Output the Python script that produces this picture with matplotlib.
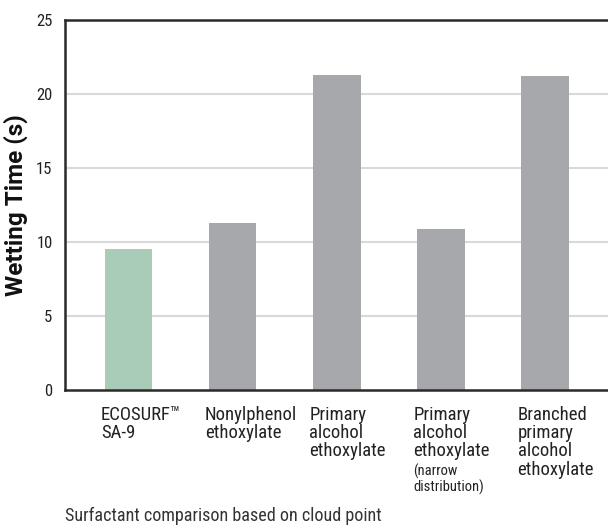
import matplotlib
matplotlib.use("Agg")
import matplotlib.pyplot as plt

FONT = ['Roboto Condensed', 'DejaVu Sans']
plt.rcParams['font.family'] = FONT

categories = ["ECOSURF™\nSA-9", "Nonylphenol\nethoxylate", "Primary\nalcohol\nethoxylate",
              "Primary\nalcohol\nethoxylate", "Branched\nprimary\nalcohol\nethoxylate"]
notes = ["", "", "", "(narrow\ndistribution)", ""]
values = [9.5, 11.3, 21.3, 10.9, 21.2]
colors = ["#a9ccb9", "#a7a8ab", "#a7a8ab", "#a7a8ab", "#a7a8ab"]
yticks = [0, 5, 10, 15, 20, 25]

fig = plt.figure(figsize=(6.08, 5.29), dpi=100)
ax = fig.add_axes([65/608, 1-390/529, 1-65/608+0.002, 370/529])
x = list(range(len(values)))
ax.bar(x, values, width=0.455, color=colors, zorder=2)
ax.set_xlim(-0.61, 4.615)
ax.set_ylim(0, 25)
ax.set_yticks(yticks)
ax.set_yticklabels([str(t) for t in yticks], fontsize=12, color="#222222")
ax.tick_params(axis='y', length=0, pad=9)
ax.set_xticks([])
for t in yticks[1:-1]:
    ax.axhline(t, color="#d9d9d9", lw=1.5, zorder=1)
for s in ['left', 'bottom', 'top']:
    ax.spines[s].set_color("#2a2a2a")
    ax.spines[s].set_linewidth(1.8)
ax.spines['right'].set_visible(False)
ax.set_ylabel("Wetting Time (s)", fontsize=17.5, fontweight='bold', color="#111111", labelpad=6,
              family=['Roboto', 'DejaVu Sans'])

for i, (lab, note) in enumerate(zip(categories, notes)):
    xt = i - 0.265
    ax.text(xt, -1.05, lab, ha='left', va='top', fontsize=13.5, color="#222222",
            linespacing=1.03, clip_on=False)
    if note:
        ax.text(xt, -4.95, note, ha='left', va='top', fontsize=10.5, color="#222222",
                linespacing=1.05, clip_on=False)

fig.text(65/608, 1-516/529, "Surfactant comparison based on cloud point", ha='left', va='center',
         fontsize=13.1, color="#333333")
fig.savefig("out.png", dpi=100)
